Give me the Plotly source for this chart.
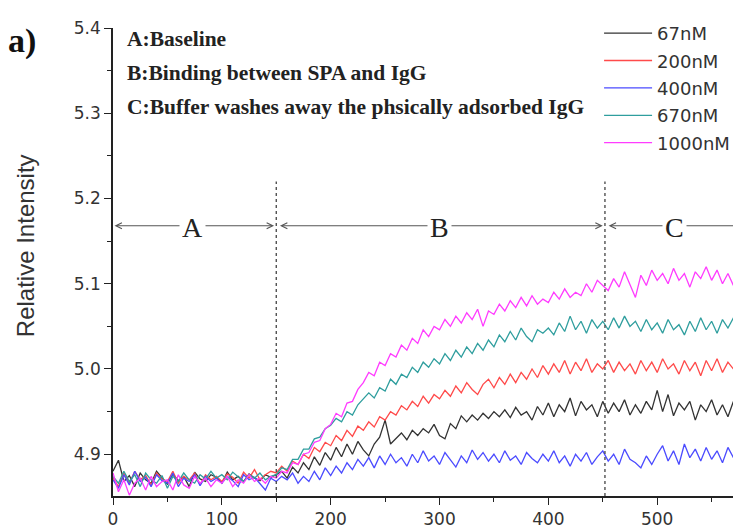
import plotly.graph_objects as go

# sampling grid (s)
time_s = list(range(0, 581, 5))

series_names = ["67nM", "200nM", "400nM", "670nM", "1000nM"]
series_colors = ["#333333", "#ff4a4a", "#4b4bff", "#2f9e9e", "#ff3cff"]

int_67 = [
    4.880, 4.893, 4.868, 4.875, 4.862, 4.878, 4.870, 4.866, 4.880, 4.872,
    4.865, 4.877, 4.869, 4.874, 4.862, 4.879, 4.871, 4.868, 4.876, 4.873,
    4.866, 4.879, 4.870, 4.874, 4.868, 4.877, 4.872, 4.869, 4.876, 4.873,
    4.876, 4.880, 4.872, 4.885, 4.878, 4.890, 4.882, 4.897, 4.887, 4.902,
    4.893, 4.908, 4.897, 4.912, 4.900, 4.915, 4.905, 4.898, 4.912, 4.920,
    4.940, 4.912, 4.918, 4.925, 4.917, 4.928, 4.922, 4.930, 4.925, 4.935,
    4.922, 4.918, 4.936, 4.930, 4.945, 4.938, 4.946, 4.940, 4.948, 4.942,
    4.950, 4.944, 4.952, 4.943, 4.955, 4.946, 4.950, 4.940, 4.956, 4.946,
    4.960, 4.944, 4.958, 4.950, 4.966, 4.945, 4.962, 4.952, 4.958, 4.944,
    4.962, 4.948, 4.960, 4.950, 4.964, 4.946, 4.958, 4.948, 4.962, 4.952,
    4.975, 4.950, 4.970, 4.945, 4.960, 4.952, 4.962, 4.940, 4.958, 4.950,
    4.964, 4.946, 4.958, 4.944, 4.962, 4.950, 4.958,
]

int_200 = [
    4.872, 4.862, 4.878, 4.866, 4.880, 4.870, 4.875, 4.864, 4.878, 4.871,
    4.868, 4.880, 4.866, 4.874, 4.870, 4.878, 4.864, 4.876, 4.870, 4.874,
    4.868, 4.877, 4.873, 4.866, 4.879, 4.872, 4.882, 4.870, 4.876, 4.880,
    4.878, 4.886, 4.880, 4.892, 4.888, 4.900, 4.895, 4.908, 4.903, 4.914,
    4.910, 4.922, 4.916, 4.928, 4.921, 4.933, 4.928, 4.938, 4.932, 4.944,
    4.940, 4.950, 4.946, 4.957, 4.952, 4.962, 4.956, 4.968, 4.960, 4.970,
    4.965, 4.975, 4.968, 4.980, 4.972, 4.984, 4.976, 4.970, 4.982, 4.988,
    4.978, 4.990, 4.982, 4.994, 4.984, 4.996, 4.988, 5.000, 4.990, 5.004,
    4.994, 5.006, 4.996, 5.010, 4.994, 5.008, 4.998, 5.012, 4.996, 5.006,
    5.000, 5.010, 4.996, 5.008, 4.998, 5.006, 4.994, 5.010, 4.998, 5.008,
    4.996, 5.012, 5.000, 5.006, 4.994, 5.010, 4.998, 5.008, 4.992, 5.010,
    4.998, 5.012, 4.996, 5.008, 5.000, 5.010, 5.002,
]

int_400 = [
    4.870, 4.860, 4.876, 4.864, 4.880, 4.868, 4.873, 4.862, 4.876, 4.869,
    4.866, 4.878, 4.862, 4.872, 4.868, 4.876, 4.863, 4.874, 4.868, 4.872,
    4.866, 4.874, 4.869, 4.862, 4.876, 4.870, 4.873, 4.866, 4.858, 4.872,
    4.868, 4.874, 4.870, 4.878, 4.866, 4.874, 4.868, 4.880, 4.870, 4.884,
    4.875, 4.886, 4.878, 4.890, 4.882, 4.894, 4.886, 4.896, 4.884, 4.898,
    4.888, 4.900, 4.890, 4.896, 4.886, 4.900, 4.890, 4.904, 4.892, 4.898,
    4.888, 4.902, 4.893, 4.885, 4.898, 4.890, 4.905, 4.894, 4.902, 4.892,
    4.900, 4.890, 4.904, 4.893, 4.898, 4.888, 4.902, 4.895, 4.890, 4.900,
    4.892, 4.904, 4.890, 4.898, 4.886, 4.900, 4.892, 4.902, 4.888, 4.897,
    4.904, 4.892, 4.900, 4.888, 4.906, 4.894, 4.890, 4.884, 4.898, 4.888,
    4.900, 4.910, 4.892, 4.904, 4.888, 4.912, 4.896, 4.906, 4.892, 4.908,
    4.894, 4.904, 4.890, 4.908, 4.896, 4.902, 4.898,
]

int_670 = [
    4.874, 4.866, 4.880, 4.868, 4.876, 4.862, 4.878, 4.870, 4.866, 4.875,
    4.860, 4.874, 4.868, 4.878, 4.870, 4.866, 4.876, 4.871, 4.880, 4.872,
    4.876, 4.870, 4.879, 4.873, 4.868, 4.876, 4.872, 4.878, 4.870, 4.874,
    4.876, 4.884, 4.882, 4.894, 4.894, 4.906, 4.906, 4.918, 4.920, 4.930,
    4.934, 4.942, 4.938, 4.950, 4.946, 4.958, 4.965, 4.972, 4.966, 4.978,
    4.974, 4.988, 4.982, 4.994, 4.990, 5.002, 4.996, 5.008, 5.002, 5.012,
    5.006, 5.018, 5.010, 5.022, 5.014, 5.026, 5.018, 5.030, 5.022, 5.034,
    5.026, 5.040, 5.032, 5.044, 5.034, 5.048, 5.038, 5.032, 5.046, 5.042,
    5.048, 5.040, 5.054, 5.044, 5.062, 5.046, 5.056, 5.042, 5.058, 5.048,
    5.056, 5.046, 5.060, 5.048, 5.062, 5.050, 5.056, 5.044, 5.058, 5.046,
    5.054, 5.042, 5.058, 5.046, 5.052, 5.040, 5.056, 5.044, 5.060, 5.046,
    5.056, 5.042, 5.058, 5.048, 5.060, 5.050, 5.054,
]

int_1000 = [
    4.878, 4.856, 4.870, 4.852, 4.866, 4.872, 4.858, 4.874, 4.862, 4.868,
    4.870, 4.858, 4.876, 4.864, 4.860, 4.874, 4.866, 4.872, 4.862, 4.870,
    4.866, 4.874, 4.862, 4.870, 4.866, 4.876, 4.868, 4.872, 4.866, 4.874,
    4.872, 4.880, 4.878, 4.890, 4.888, 4.900, 4.902, 4.914, 4.916, 4.930,
    4.935, 4.948, 4.944, 4.960, 4.962, 4.976, 4.984, 4.996, 4.992, 5.008,
    5.004, 5.018, 5.014, 5.028, 5.022, 5.036, 5.030, 5.046, 5.038, 5.050,
    5.046, 5.058, 5.050, 5.062, 5.054, 5.066, 5.058, 5.070, 5.050, 5.068,
    5.064, 5.076, 5.068, 5.080, 5.072, 5.084, 5.074, 5.086, 5.076, 5.082,
    5.078, 5.090, 5.082, 5.094, 5.084, 5.090, 5.086, 5.100, 5.090, 5.104,
    5.098, 5.092, 5.106, 5.096, 5.114, 5.100, 5.084, 5.110, 5.098, 5.116,
    5.104, 5.112, 5.100, 5.118, 5.104, 5.112, 5.096, 5.114, 5.106, 5.120,
    5.104, 5.116, 5.100, 5.112, 5.098, 5.118, 5.108,
]

series_values = [int_67, int_200, int_400, int_670, int_1000]

# phase boundaries and labels
phase_bounds = [0, 150, 452, 600]
phase_labels = ["A", "B", "C"]
phase_label_x = [73, 300, 516]
phase_arrow_y = 5.168
boundary_top = 5.22

notes = ["A:Baseline", "B:Binding between SPA and IgG",
         "C:Buffer washes away the phsically adsorbed IgG"]
note_y = [5.387, 5.347, 5.307]

x_range = [0, 577]
y_range = [4.851, 5.4]

fig = go.Figure()
for name, color, vals in zip(series_names, series_colors, series_values):
    fig.add_trace(go.Scatter(
        x=time_s[:len(vals)], y=vals, mode="lines", name=name,
        legendgroup=name,
        line=dict(color=color, width=1.3),
    ))

shapes = []
for xb in phase_bounds[1:3]:
    shapes.append(dict(type="line", xref="x", yref="y", x0=xb, x1=xb,
                       y0=y_range[0], y1=boundary_top,
                       line=dict(color="#444444", width=1.3, dash="dot")))

annotations = []
for i, lab in enumerate(phase_labels):
    x0 = phase_bounds[i] + (2 if i > 0 else 0)
    x1 = phase_bounds[i + 1] - 2
    annotations.append(dict(
        x=x1, y=phase_arrow_y, ax=x0, ay=phase_arrow_y,
        xref="x", yref="y", axref="x", ayref="y", text="",
        showarrow=True, arrowside="end+start", arrowhead=5, startarrowhead=5,
        arrowsize=1.0, startarrowsize=1.0, arrowwidth=1.2, arrowcolor="#555555",
    ))
    annotations.append(dict(
        x=phase_label_x[i], y=phase_arrow_y, xref="x", yref="y",
        text=lab, showarrow=False, bgcolor="white", borderpad=2,
        font=dict(family="Liberation Serif", size=28, color="#222222"),
        yanchor="middle", xanchor="center", yshift=-2,
    ))

for t, yv in zip(notes, note_y):
    annotations.append(dict(
        x=11, y=yv, xref="x", yref="y", text="<b>" + t + "</b>",
        showarrow=False, xanchor="left", yanchor="middle",
        font=dict(family="Liberation Serif", size=21.5, color="#222222"),
    ))

annotations.append(dict(
    x=-0.17, y=0.972, xref="paper", yref="paper", text="<b>a)</b>",
    showarrow=False, xanchor="left", yanchor="middle",
    font=dict(family="Liberation Serif", size=34, color="#111111"),
))
annotations.append(dict(
    x=-0.14, y=0.534, xref="paper", yref="paper", text="Relative Intensity",
    showarrow=False, textangle=-90, xanchor="center", yanchor="middle",
    font=dict(family="Liberation Sans", size=24, color="#333333"),
))

fig.update_layout(
    width=733, height=524,
    margin=dict(l=105, r=0, t=20, b=36),
    paper_bgcolor="white", plot_bgcolor="white",
    showlegend=True,
    legend=dict(x=0.774, y=1.028, xanchor="left", yanchor="top",
                bgcolor="rgba(0,0,0,0)", itemwidth=48,
                font=dict(family="DejaVu Sans", size=18, color="#333333"),
                tracegroupgap=1),
    shapes=shapes, annotations=annotations,
)
fig.update_xaxes(
    range=x_range, showline=True, linecolor="#222222", linewidth=1.6,
    ticks="outside", ticklen=7, tickwidth=1.4, tickcolor="#222222",
    dtick=100, tick0=0, showgrid=False, zeroline=False,
    tickfont=dict(family="DejaVu Sans", size=17, color="#333333"),
    minor=dict(ticks="outside", ticklen=4, dtick=50, tick0=0,
               tickcolor="#222222", showgrid=False),
)
fig.update_yaxes(
    range=y_range, showline=True, linecolor="#222222", linewidth=1.6,
    ticks="outside", ticklen=7, tickwidth=1.4, tickcolor="#222222",
    dtick=0.1, tick0=4.9, tickformat=".1f", showgrid=False, zeroline=False,
    tickfont=dict(family="DejaVu Sans", size=17, color="#333333"),
    minor=dict(ticks="outside", ticklen=4, dtick=0.05, tick0=4.9,
               tickcolor="#222222", showgrid=False),
)

fig.write_html("out.html")
